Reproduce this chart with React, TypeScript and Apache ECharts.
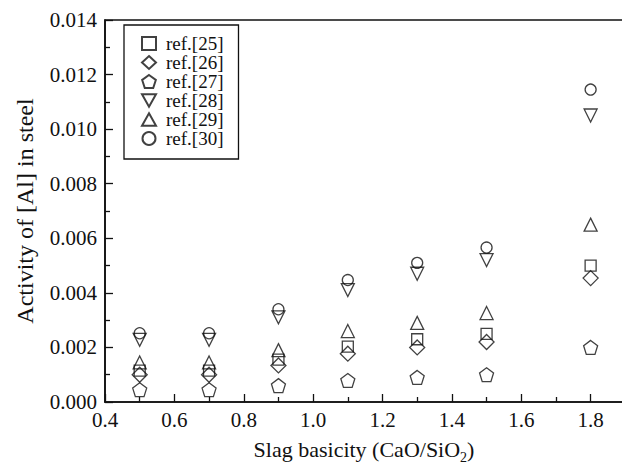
import React, { useEffect, useRef } from "react";
import * as echarts from "echarts";

const basicity = [0.5, 0.7, 0.9, 1.1, 1.3, 1.5, 1.8];
const ref25 = [0.00115, 0.00115, 0.00155, 0.00203, 0.0023, 0.0025, 0.005];
const ref26 = [0.001, 0.001, 0.00134, 0.00177, 0.002, 0.0022, 0.00454];
const ref27 = [0.00045, 0.00045, 0.0006, 0.00079, 0.0009, 0.001, 0.002];
const ref28 = [0.00228, 0.00228, 0.0031, 0.0041, 0.0047, 0.0052, 0.0105];
const ref29 = [0.00145, 0.00145, 0.0019, 0.0026, 0.0029, 0.00326, 0.0065];
const ref30 = [0.00252, 0.00252, 0.0034, 0.00447, 0.0051, 0.00566, 0.01145];

const seriesNames = ["ref.[25]", "ref.[26]", "ref.[27]", "ref.[28]", "ref.[29]", "ref.[30]"];
const seriesValues = [ref25, ref26, ref27, ref28, ref29, ref30];

const PENTAGON = "path://M0,-10 L9.511,-3.09 L5.878,8.09 L-5.878,8.09 L-9.511,-3.09 Z";
const TRI_DOWN = "path://M-10,-9 L10,-9 L0,9 Z";
const TRI_UP = "path://M0,-9 L10,9 L-10,9 Z";
const symbols = ["rect", "diamond", PENTAGON, TRI_DOWN, TRI_UP, "circle"];
const symbolSizes = [11, 15, 14, 13, 13, 11];

const FONT = "Liberation Serif";
const INK = "#111";

export default function App() {
  const ref = useRef<HTMLDivElement>(null);
  useEffect(() => {
    if (!ref.current) return;
    const chart = echarts.init(ref.current, undefined, { renderer: "svg" });
    const series = seriesNames.map((name, i) => ({
      name,
      type: "scatter",
      symbol: symbols[i],
      symbolSize: symbolSizes[i],
      itemStyle: { color: "rgba(0,0,0,0)", borderColor: INK, borderWidth: 1.3 },
      emphasis: { disabled: true },
      data: basicity.map((x, j) => [x, seriesValues[i][j]]),
    }));
    chart.setOption({
      animation: false,
      backgroundColor: "#fff",
      textStyle: { fontFamily: FONT },
      grid: {
        left: 105,
        top: 20,
        right: 20,
        bottom: 70,
        show: true,
        borderColor: INK,
        borderWidth: 1.6,
        backgroundColor: "transparent",
      },
      legend: {
        orient: "vertical",
        left: 124,
        top: 25,
        padding: [9, 15, 11, 17],
        borderColor: INK,
        borderWidth: 1.3,
        itemWidth: 14,
        itemHeight: 13,
        itemGap: 0,
        textStyle: { fontFamily: FONT, fontSize: 19, color: INK, lineHeight: 19, padding: [0, 0, 0, 5] },
        data: seriesNames,
      },
      xAxis: {
        type: "value",
        min: 0.4,
        max: 2.0,
        interval: 0.2,
        name: "{a|Slag basicity (CaO/SiO}{s|2}{a|)}",
        nameLocation: "middle",
        nameGap: 36,
        nameTextStyle: {
          padding: [0, 37, 0, 0],
          rich: {
            a: { fontFamily: FONT, fontSize: 22, color: INK, lineHeight: 26, verticalAlign: "top" },
            s: { fontFamily: FONT, fontSize: 14, color: INK, lineHeight: 14, verticalAlign: "bottom" },
          },
        },
        axisLine: { lineStyle: { color: INK, width: 1.6 } },
        axisTick: { inside: true, length: 8, lineStyle: { color: INK, width: 1.3 } },
        minorTick: { show: true, splitNumber: 2, length: 5, lineStyle: { color: INK, width: 1.3 } },
        splitLine: { show: false },
        axisLabel: {
          fontFamily: FONT,
          fontSize: 21,
          color: INK,
          margin: 7,
          showMaxLabel: false,
          formatter: (v: number) => (v > 1.85 ? "" : v.toFixed(1)),
        },
      },
      yAxis: {
        type: "value",
        min: 0,
        max: 0.014,
        interval: 0.002,
        name: "Activity of [Al] in steel",
        nameLocation: "middle",
        nameGap: 68,
        nameRotate: 90,
        nameTextStyle: { fontFamily: FONT, fontSize: 24, color: INK },
        axisLine: { show: true, lineStyle: { color: INK, width: 1.6 } },
        axisTick: { show: true, inside: true, length: 8, lineStyle: { color: INK, width: 1.3 } },
        minorTick: { show: true, splitNumber: 2, length: 5, lineStyle: { color: INK, width: 1.3 } },
        splitLine: { show: false },
        axisLabel: {
          fontFamily: FONT,
          fontSize: 21,
          color: INK,
          margin: 8,
          formatter: (v: number) => v.toFixed(3),
        },
      },
      series,
    });
    return () => chart.dispose();
  }, []);
  return (
    <div style={{ position: "fixed", left: 0, top: 0, width: 622, height: 472, overflow: "hidden", background: "#fff" }}>
      <div ref={ref} style={{ width: 680, height: 472 }} />
    </div>
  );
}
